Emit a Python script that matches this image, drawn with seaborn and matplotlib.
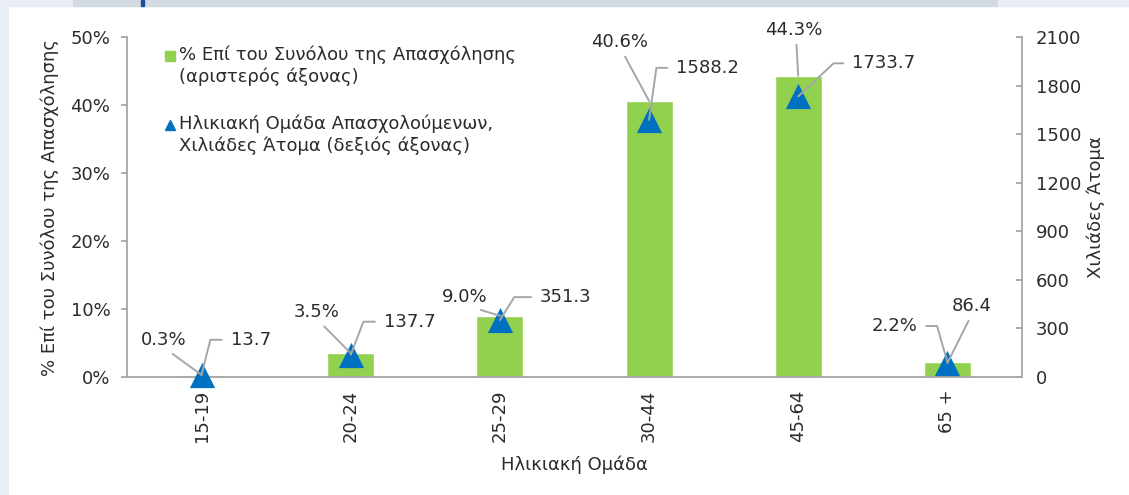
import numpy as np
import matplotlib
matplotlib.use("Agg")
import matplotlib.pyplot as plt
import seaborn as sns
from matplotlib.lines import Line2D
from matplotlib.patches import Rectangle
from matplotlib.legend_handler import HandlerLine2D

# data
age_groups = ["15-19", "20-24", "25-29", "30-44", "45-64", "65 +"]
share_pct = [0.3, 3.5, 9.0, 40.6, 44.3, 2.2]
employed_k = [13.7, 137.7, 351.3, 1588.2, 1733.7, 86.4]

pct_ticks = [0, 10, 20, 30, 40, 50]
k_ticks = [0, 300, 600, 900, 1200, 1500, 1800, 2100]

bar_label = "% Επί του Συνόλου της Απασχόλησης\n(αριστερός άξονας)"
tri_label = "Ηλικιακή Ομάδα Απασχολούμενων,\nΧιλιάδες Άτομα (δεξιός άξονας)"

GREEN = "#92d050"
BLUE = "#0070c0"
GREY = "#a6a6a6"
TEXT = "#2b2b2b"
FS = 13

# label placement (pixel offsets from the mark), (dx, dy, elbow angle or None)
pct_pos = [(-38, 35, None), (-34, 41, None), (-35, 19, None),
           (-30, 59, None), (-5, 46, None), (-30, 36, 106)]
val_pos = [(29, 35, 76), (33, 33, 69), (40, 23, 58),
           (27, 52, 82), (54, 33, 43), (24, 57, None)]


class FirstLineHandler(HandlerLine2D):
    # keep the legend marker level with the first line of a two-line label
    def create_artists(self, legend, orig_handle, xdescent, ydescent,
                       width, height, fontsize, trans):
        arts = super().create_artists(legend, orig_handle, xdescent, ydescent,
                                      width, height, fontsize, trans)
        for a in arts:
            a.set_ydata(np.asarray(a.get_ydata()) + 0.6 * fontsize)
        return arts


sns.set_theme(style="white")
plt.rcParams["font.family"] = ["DejaVu Sans"]
plt.rcParams["text.color"] = TEXT
plt.rcParams["axes.labelcolor"] = TEXT
plt.rcParams["xtick.color"] = TEXT
plt.rcParams["ytick.color"] = TEXT

W, H = 1129, 495
fig = plt.figure(figsize=(W / 100, H / 100), dpi=100)
fig.patch.set_facecolor("white")

# page frame pieces from the cut-off report layout
frame = [(0, 0, 8, H, "#e8edf6"),
         (0, H - 6, 73, 6, "#e8edf6"),
         (73, H - 6, 925, 6, "#d3dae2"),
         (998, H - 6, W - 998, 6, "#e8edf6"),
         (141, H - 6, 3, 6, "#1f4e9a")]
for x0, y0, w, h, c in frame:
    fig.patches.append(Rectangle((x0 / W, y0 / H), w / W, h / H,
                                 transform=fig.transFigure, color=c, zorder=-5))

ax = fig.add_axes([127 / W, 118 / H, 895 / W, 340 / H])
ax.set_facecolor("none")

n = len(age_groups)
sns.barplot(x=np.arange(n), y=share_pct, color=GREEN, saturation=1,
            width=0.315, ax=ax, native_scale=True)

ax.set_xlim(-0.5, n - 0.5)
ax.set_ylim(0, 50)
ax.set_yticks(pct_ticks)
ax.set_yticklabels([f"{t}%" for t in pct_ticks])
ax.set_xticks(np.arange(-0.5, n, 1))
ax.set_xticklabels([])
ax.set_xticks(np.arange(n), labels=age_groups, minor=True)
ax.tick_params(axis="x", which="major", length=5, width=1.3, color=GREY, direction="out")
ax.tick_params(axis="x", which="minor", length=0, pad=9, labelsize=FS, labelrotation=90)
ax.tick_params(axis="y", length=4, width=1.3, color=GREY, direction="out", pad=8, labelsize=FS)
ax.set_xlabel("Ηλικιακή Ομάδα", fontsize=FS, labelpad=10)
ax.set_ylabel("% Επί του Συνόλου της Απασχόλησης", fontsize=FS, labelpad=8)
for s in ["top", "right"]:
    ax.spines[s].set_visible(False)
for s in ["left", "bottom"]:
    ax.spines[s].set_color(GREY)
    ax.spines[s].set_linewidth(1.3)

ax2 = ax.twinx()
sns.scatterplot(x=np.arange(n), y=employed_k, marker="^", s=330, color=BLUE,
                linewidth=0, ax=ax2, legend=False, zorder=3)
for c in ax2.collections:
    c.set_clip_on(False)
ax2.set_ylim(0, 2100)
ax2.set_yticks(k_ticks)
ax2.tick_params(axis="y", length=4, width=1.3, color=GREY, direction="in", pad=10, labelsize=FS)
ax2.set_ylabel("Χιλιάδες Άτομα", fontsize=FS, labelpad=4)
for s in ["top", "left", "bottom"]:
    ax2.spines[s].set_visible(False)
ax2.spines["right"].set_color(GREY)
ax2.spines["right"].set_linewidth(1.3)

line_kw = dict(arrowstyle="-", color=GREY, lw=1.4, shrinkB=0)

# percentage labels tied to bar tops
for i, (p, (dx, dy, ang)) in enumerate(zip(share_pct, pct_pos)):
    if ang is None:
        arrow = dict(line_kw, shrinkA=2, relpos=(0.55, 0))
        ha = "center"
    else:
        arrow = dict(line_kw, shrinkA=4, relpos=(1, 0.5),
                     connectionstyle=f"angle,angleA=0,angleB={ang},rad=0")
        ha = "right"
    ax2.annotate(f"{p:.1f}%", xy=(i, p), xycoords=ax.transData,
                 xytext=(dx, dy), textcoords="offset pixels",
                 ha=ha, va="center", fontsize=FS, arrowprops=arrow, zorder=5)

# employed-thousands labels tied to triangles
for i, (v, (dx, dy, ang)) in enumerate(zip(employed_k, val_pos)):
    if ang is None:
        arrow = dict(line_kw, shrinkA=2, relpos=(0.5, 0))
        ha = "center"
    else:
        arrow = dict(line_kw, shrinkA=4, relpos=(0, 0.5),
                     connectionstyle=f"angle,angleA=0,angleB={ang},rad=0")
        ha = "left"
    ax2.annotate(f"{v:.1f}", xy=(i, v), xytext=(dx, dy), textcoords="offset pixels",
                 ha=ha, va="center", fontsize=FS, arrowprops=arrow, zorder=5)

handles = [Line2D([], [], marker="s", color=GREEN, linestyle="none", markersize=7),
           Line2D([], [], marker="^", color=BLUE, linestyle="none", markersize=7)]
ax2.legend(handles, [bar_label, tri_label], loc="upper left",
           bbox_to_anchor=(0.035, 0.995), frameon=False, fontsize=FS,
           handlelength=0.5, handletextpad=0.25, labelspacing=1.6, borderaxespad=0,
           handler_map={Line2D: FirstLineHandler()})

fig.savefig("out.png", dpi=100)
